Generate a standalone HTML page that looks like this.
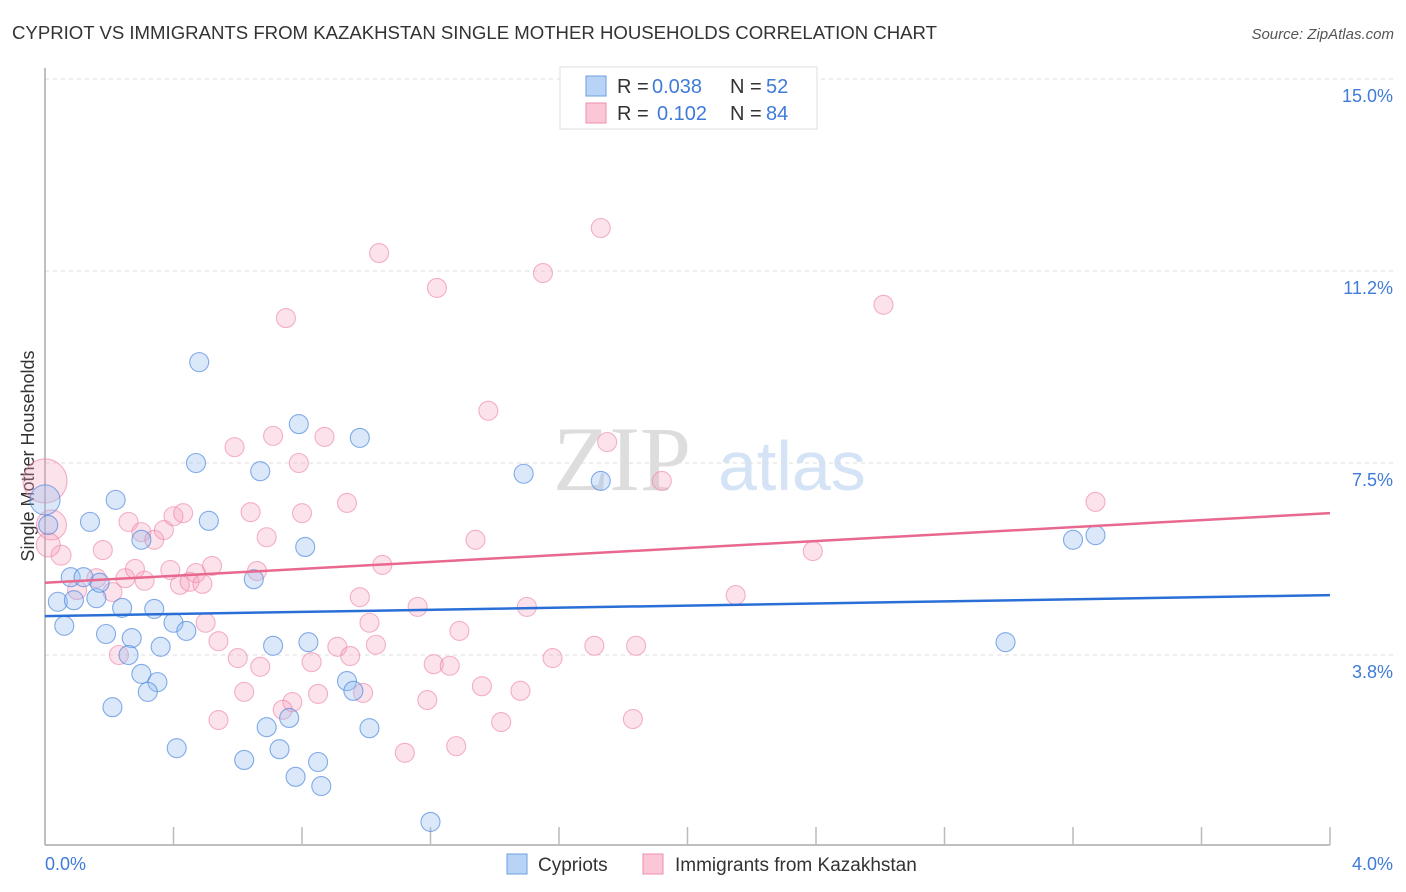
<!DOCTYPE html>
<html><head><meta charset="utf-8"><style>
body{margin:0;background:#fff;font-family:"Liberation Sans",sans-serif}
svg{display:block}
</style></head><body>
<svg width="1406" height="892" id="chart">
<text x="12" y="39" font-size="18.6" fill="#333" textLength="925">CYPRIOT VS IMMIGRANTS FROM KAZAKHSTAN SINGLE MOTHER HOUSEHOLDS CORRELATION CHART</text>
<text x="1394" y="39" font-size="15" fill="#555" font-style="italic" text-anchor="end">Source: ZipAtlas.com</text>
<text transform="translate(34,456) rotate(-90)" font-size="18" fill="#333" text-anchor="middle">Single Mother Households</text>
<g>
<text x="553" y="490" font-family="Liberation Serif,serif" font-size="92" fill="#ddd">ZIP</text>
<text x="718" y="490" font-size="70" fill="#d4e3f5">atlas</text>
</g>
<g id="grid"></g><g id="axes"></g><g id="pts"></g><g id="trend"></g>
<g>
<rect x="560" y="67" width="257" height="62" fill="#fff" stroke="#ddd"/>
<rect x="586" y="76" width="20" height="20" fill="#b8d3f5" stroke="#6a9fe0"/>
<rect x="586" y="103" width="20" height="20" fill="#fbc7d6" stroke="#ee8fab"/>
<text x="617" y="93" font-size="20" fill="#333">R =</text>
<text x="652" y="93" font-size="20" fill="#3f7bd8">0.038</text>
<text x="730" y="93" font-size="20" fill="#333">N =</text>
<text x="766" y="93" font-size="20" fill="#3f7bd8">52</text>
<text x="617" y="120" font-size="20" fill="#333">R =</text>
<text x="657" y="120" font-size="20" fill="#3f7bd8">0.102</text>
<text x="730" y="120" font-size="20" fill="#333">N =</text>
<text x="766" y="120" font-size="20" fill="#3f7bd8">84</text>
</g>
<g>
<rect x="507" y="854" width="20" height="20" fill="#b8d3f5" stroke="#6a9fe0"/>
<text x="538" y="871" font-size="19" fill="#333">Cypriots</text>
<rect x="643" y="854" width="20" height="20" fill="#fbc7d6" stroke="#ee8fab"/>
<text x="675" y="871" font-size="19" fill="#333">Immigrants from Kazakhstan</text>
</g>
</svg>
<script>
const yTicks=[3.75,7.5,11.25,15];
const yTickLabels=["3.8%","7.5%","11.2%","15.0%"];
const xTickLabels=["0.0%","4.0%"];
const blueX=[0,0.01,0.14,0.22,0.08,0.12,0.04,0.09,0.16,0.17,0.06,0.24,0.34,0.19,0.27,0.26,0.36,0.40,0.44,0.30,0.48,0.47,0.51,0.67,0.65,0.81,0.79,0.98,0.71,0.82,0.30,0.35,0.32,0.21,0.41,0.69,0.76,1.01,0.94,0.96,0.62,0.73,0.78,0.85,0.86,1.20,1.49,1.73,2.99,3.20,3.27];
const blueY=[6.78,6.29,6.35,6.78,5.27,5.27,4.79,4.82,4.86,5.16,4.32,4.67,4.65,4.16,4.08,3.75,3.91,4.38,4.22,6.00,9.47,7.50,6.37,7.34,5.23,5.86,8.26,7.99,3.93,4.00,3.38,3.22,3.03,2.73,1.93,2.34,2.52,2.32,3.24,3.05,1.70,1.91,1.37,1.66,1.19,0.49,7.29,7.15,4.00,6.00,6.09];
const blueR=[15,9.5,9.5,9.5,9.5,9.5,9.5,9.5,9.5,9.5,9.5,9.5,9.5,9.5,9.5,9.5,9.5,9.5,9.5,9.5,9.5,9.5,9.5,9.5,9.5,9.5,9.5,9.5,9.5,9.5,9.5,9.5,9.5,9.5,9.5,9.5,9.5,9.5,9.5,9.5,9.5,9.5,9.5,9.5,9.5,9.5,9.5,9.5,9.5,9.5,9.5];
const pinkX=[0,0.02,0.05,0.01,0.18,0.10,0.16,0.21,0.25,0.28,0.31,0.26,0.30,0.34,0.37,0.40,0.43,0.39,0.42,0.45,0.47,0.49,0.52,0.23,0.50,0.54,0.60,0.67,0.62,0.54,0.59,0.64,0.69,0.66,0.71,0.79,0.80,0.75,0.87,0.94,1.05,0.98,1.01,1.03,0.91,0.95,0.83,0.85,0.99,0.77,0.74,1.04,1.22,1.16,1.21,1.26,1.29,1.19,1.12,1.28,1.36,1.42,1.38,1.34,1.55,1.73,1.75,1.92,1.50,1.48,1.58,1.71,1.84,1.83,2.15,2.39,2.61,3.27];
const pinkY=[7.15,6.29,5.70,5.90,5.80,5.02,5.25,4.98,5.25,5.43,5.20,6.35,6.15,6.00,6.19,6.46,6.52,5.41,5.12,5.18,5.35,5.14,5.49,3.75,4.38,4.02,3.69,3.52,3.03,2.48,7.81,6.54,6.05,5.39,8.03,7.50,6.52,10.33,8.01,6.72,5.51,4.88,4.38,3.95,3.91,3.73,3.61,2.99,3.01,2.83,2.68,11.60,10.92,4.69,3.57,3.54,4.22,2.87,1.84,1.97,3.14,2.44,8.52,6.00,11.21,12.09,7.91,7.15,4.69,3.05,3.69,3.93,3.93,2.50,4.92,5.78,10.59,6.74];
const pinkR=[22,15,10,12];
const blueTrend=[4.51,4.92];
const pinkTrend=[5.16,6.52];
const X=v=>45+v/4*1285, Y=v=>847-v/3.75*192;
const NS="http://www.w3.org/2000/svg";
function mk(t,a,p){const e=document.createElementNS(NS,t);for(const k in a)e.setAttribute(k,a[k]);p.appendChild(e);return e;}
const grid=document.getElementById('grid'),axes=document.getElementById('axes'),pts=document.getElementById('pts'),tr=document.getElementById('trend');
yTicks.forEach((v,i)=>{
 const l=mk('line',{x1:45,x2:1393,y1:Y(v),y2:Y(v),stroke:'#ddd','stroke-dasharray':'4,4'},grid);
 
 
 const t=mk('text',{x:1393,y:Y(v)+23,'font-size':18,fill:'#3f7bd8','text-anchor':'end'},axes);
 t.textContent=yTickLabels[i];
 
 
});
const ya=mk('line',{x1:45,x2:45,y1:68,y2:845,stroke:'#aaa','stroke-width':1.5},axes);


const xa=mk('line',{x1:45,x2:1330,y1:845,y2:845,stroke:'#aaa','stroke-width':1.5},axes);


for(let i=1;i<=10;i++){const tk=mk('line',{x1:X(i*0.4),x2:X(i*0.4),y1:827,y2:845,stroke:'#bbb','stroke-width':1.5},axes);
 
 }
[[45,'start',0],[1393,'end',1]].forEach(([x,a,i])=>{const t=mk('text',{x:x,y:870,'font-size':18,fill:'#3f7bd8','text-anchor':a},axes);t.textContent=xTickLabels[i];
 
 });
pinkX.forEach((v,i)=>{const c=mk('circle',{cx:X(v),cy:Y(pinkY[i]),r:pinkR[i]||9.5,fill:'rgba(246,160,188,0.3)',stroke:'rgba(236,130,165,0.6)','stroke-width':1.1},pts);
 
 });
blueX.forEach((v,i)=>{const c=mk('circle',{cx:X(v),cy:Y(blueY[i]),r:blueR[i],fill:'rgba(150,190,240,0.35)',stroke:'rgba(70,130,220,0.65)','stroke-width':1.1},pts);
 
 });
const bl=mk('line',{x1:X(0),x2:X(4),y1:Y(blueTrend[0]),y2:Y(blueTrend[1]),stroke:'#2a6fd6','stroke-width':2.5},tr);


const pl=mk('line',{x1:X(0),x2:X(4),y1:Y(pinkTrend[0]),y2:Y(pinkTrend[1]),stroke:'#e8688f','stroke-width':2.5},tr);


</script>
</body></html>
